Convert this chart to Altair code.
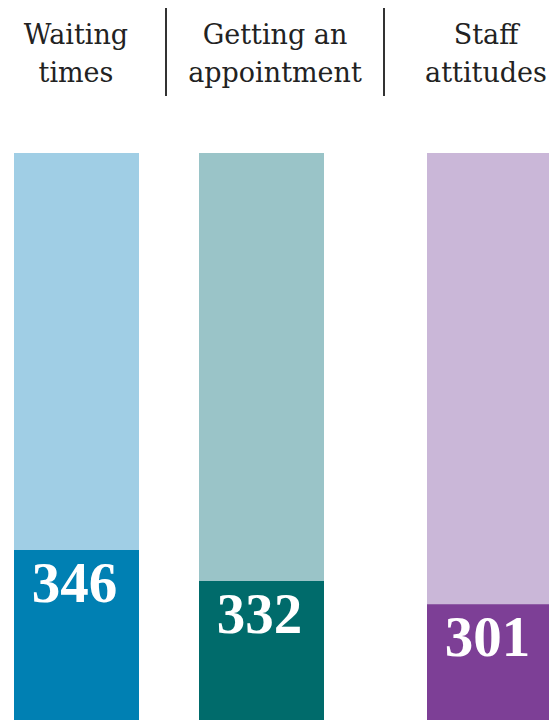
import altair as alt
import pandas as pd

categories = ["Waiting times", "Getting an appointment", "Staff attitudes"]
counts = [346, 332, 301]
share_pct = [30.0, 24.5, 20.4]      # dark part as % of full column (estimated)
total_pct = [100, 100, 100]
headers = ["Waiting\ntimes", "Getting an\nappointment", "Staff\nattitudes"]
light_colors = ["#A0CEE5", "#9AC4C8", "#CAB7D8"]
dark_colors = ["#0080B3", "#006B6B", "#7D3F96"]

df = pd.DataFrame({
    "cat": categories,
    "idx": [0, 1, 2],
    "count": counts,
    "share": share_pct,
    "total": total_pct,
})

xs = alt.X("idx:Q", axis=None,
           scale=alt.Scale(domain=[0, 1, 2], range=[68.5, 253.5, 481.5],
                           nice=False, zero=False, padding=0))
ys_scale = alt.Scale(domain=[0, 100], range=[712, 145], nice=False, padding=0)

base = alt.Chart(df)

light = base.mark_bar(width=125).encode(
    x=xs,
    y=alt.Y("total:Q", axis=None, scale=ys_scale),
    color=alt.Color("cat:N", scale=alt.Scale(domain=categories, range=light_colors), legend=None),
)
dark = base.mark_bar(width=125).encode(
    x=xs,
    y=alt.Y("share:Q", axis=None, scale=ys_scale),
    color=alt.Color("cat:N", scale=alt.Scale(domain=categories, range=dark_colors), legend=None),
)
labels = base.mark_text(font="Liberation Serif", fontWeight="bold", fontSize=57,
                        color="white", baseline="alphabetic", align="center", dy=52, dx=-2).encode(
    x=xs,
    y=alt.Y("share:Q", axis=None, scale=ys_scale),
    text=alt.Text("count:Q"),
)

one = pd.DataFrame({"a": [0]})
header_x = [68, 267, 478]
sep_x = [158, 376]
layers = [light, dark, labels]
for hx, h in zip(header_x, headers):
    layers.append(
        alt.Chart(one).mark_text(font="DejaVu Serif", fontSize=27, color="#222222",
                                 align="center", baseline="top", lineBreak="\n", lineHeight=38).encode(
            x=alt.value(hx), y=alt.value(15), text=alt.value(h))
    )
for sx in sep_x:
    layers.append(
        alt.Chart(one).mark_rule(color="#333333", strokeWidth=2).encode(
            x=alt.value(sx), y=alt.value(0), y2=alt.value(88))
    )

chart = alt.layer(*layers).resolve_scale(color="independent").properties(
    width=541, height=713, padding=0, autosize=alt.AutoSizeParams(type="none")
).configure_view(stroke=None)

chart.save("out.html", embed_options={"renderer": "svg", "actions": False})
